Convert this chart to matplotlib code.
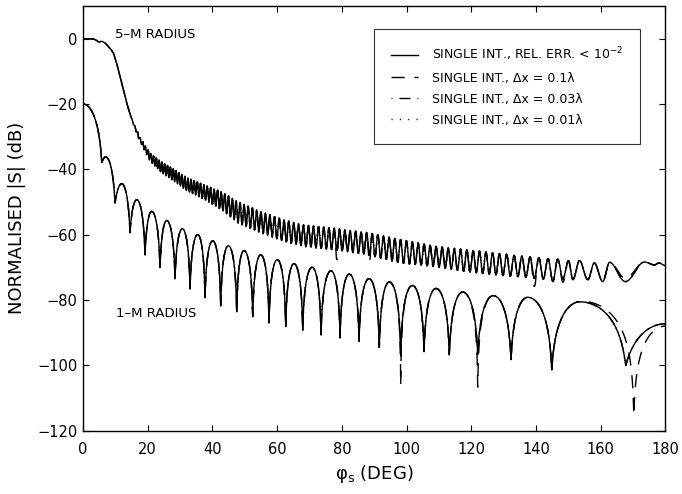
import numpy as np
import matplotlib
matplotlib.use("Agg")
import matplotlib.pyplot as plt

plt.rcParams['font.family'] = ['DejaVu Sans']
plt.rcParams['mathtext.fontset'] = 'dejavusans'

# ---------------- 1-m radius cylinder: lobe maxima and nulls (deg, dB) ----------------
r1_peak_deg = [0.0, 7.0, 11.96, 16.6, 21.23, 25.87, 30.69, 35.44, 40.08, 44.9, 49.75,
               54.91, 60.04, 65.2, 70.8, 76.64, 82.29, 88.38, 94.65, 101.76, 109.08,
               117.34, 126.79, 137.42, 153.58, 180.0]
r1_peak_db = [-20.0, -36.2, -44.4, -49.3, -52.9, -55.7, -58.2, -60.0, -61.9, -63.4, -64.9,
              -66.2, -67.7, -68.9, -70.0, -71.1, -72.1, -73.5, -74.5, -75.6, -76.5,
              -77.6, -78.7, -79.2, -80.6, -87.3]
r1_null_deg = [5.8, 9.89, 14.52, 19.16, 23.79, 28.43, 33.07, 37.7, 42.55, 47.5, 52.44,
               57.48, 62.64, 67.9, 73.55, 79.42, 85.29, 91.56, 98.18, 105.38, 113.2,
               121.97, 132.26, 144.84, 167.7]
r1_null_db = [-37.9, -50.3, -59.4, -66.2, -70.1, -73.5, -76.6, -79.3, -81.8, -83.6, -85.1,
              -87.0, -88.2, -89.3, -90.7, -91.6, -92.7, -94.6, -97.1, -95.8, -96.8,
              -96.8, -98.3, -101.4, -100.1]

# coarse sampling (dx = 0.1 lambda): deeper nulls and a shifted last null
r1_coarse_peak_deg = r1_peak_deg[:-2] + [154.0, 180.0]
r1_coarse_peak_db = r1_peak_db[:-2] + [-80.4, -88.0]
r1_coarse_null_deg = r1_null_deg[:-1] + [170.2]
r1_coarse_null_db = (r1_null_db[:18] + [-106.2] + r1_null_db[19:21] + [-106.7]
                     + r1_null_db[22:24] + [-115.4])

# ---------------- 5-m radius cylinder ----------------
# main lobe (deg, dB)
r5_lobe_deg = [0.0, 2.0, 3.2, 4.0, 4.7, 5.8, 6.8, 8.3, 9.4, 10.4, 11.4, 12.5, 13.5, 14.5]
r5_lobe_db = [0.0, 0.0, -0.1, -0.4, -1.0, -0.8, -1.3, -2.9, -4.4, -7.5, -11.5, -15.6, -19.7, -23.0]

# ripple envelope (upper / lower, dB) and ripple period (deg)
r5_env_deg = [15, 17.6, 20.7, 24, 28, 32, 38, 43, 48, 55, 62, 68, 77, 88, 98, 108, 118, 127, 135, 143.7]
r5_env_hi = [-24.4, -30.2, -35.0, -37.6, -40.0, -42.5, -45.0, -47.0, -50.0, -53.0, -55.5,
             -57.0, -58.0, -59.4, -61.5, -63.4, -64.6, -65.6, -66.5, -67.3]
r5_env_lo = [-24.8, -31.6, -37.4, -40.8, -43.6, -46.5, -49.5, -52.5, -56.5, -59.5, -62.0,
             -63.6, -64.6, -66.2, -68.7, -69.7, -71.3, -72.3, -73.0, -73.8]
r5_period_deg = [15, 30, 45, 60, 80, 100, 115, 125, 135, 143.7]
r5_period = [0.8, 0.9, 1.15, 1.45, 1.65, 1.8, 1.9, 2.0, 2.4, 2.9]

# broad ripples near back-scatter (deg, dB)
r5_tail_deg = [143.7, 145.2, 146.7, 148.3, 150.0, 151.4, 153.4, 156.0, 158.0, 160.6,
               162.7, 167.6, 173.5, 176.6, 177.9, 180.0]
r5_tail_db = [-67.3, -74.4, -67.5, -73.6, -68.0, -73.8, -68.0, -73.8, -68.7, -74.4,
              -68.5, -74.4, -68.4, -69.3, -68.7, -69.5]

# coarse sampling (dx = 0.1 lambda): isolated deeper dips (deg, dB)
r5_coarse_dip_deg = [78.3, 88.6, 139.5, 148.3, 167.6]
r5_coarse_dip_db = [-67.7, -68.6, -75.9, -74.6, -73.4]


def lobe_curve(x, peak_deg, peak_db, null_deg, null_db):
    """Lobes between alternating maxima and nulls, shaped in linear amplitude."""
    deg, db, is_null = [], [], []
    for i in range(len(peak_deg)):
        deg.append(peak_deg[i]); db.append(peak_db[i]); is_null.append(False)
        if i < len(null_deg):
            deg.append(null_deg[i]); db.append(null_db[i]); is_null.append(True)
    y = np.full_like(x, np.nan)
    for k in range(len(deg) - 1):
        a, b = deg[k], deg[k + 1]
        m = (x >= a) & (x <= b)
        t = (x[m] - a) / (b - a)
        if is_null[k]:
            s = t
            a_lo, a_hi = 10 ** (db[k] / 20), 10 ** (db[k + 1] / 20)
        else:
            s = 1 - t
            a_lo, a_hi = 10 ** (db[k + 1] / 20), 10 ** (db[k] / 20)
        amp = a_lo + (a_hi - a_lo) * np.sin(np.pi / 2 * s)
        y[m] = 20 * np.log10(amp)
    return y


def r5_extrema():
    """Ripple maxima/minima, stepping back from the first broad ripple."""
    degs, dbs, lows = [], [], []
    a, hi = r5_tail_deg[0], True
    while a > 15.2:
        degs.append(a)
        dbs.append(np.interp(a, r5_env_deg, r5_env_hi if hi else r5_env_lo))
        lows.append(not hi)
        a -= 0.5 * np.interp(a, r5_period_deg, r5_period)
        hi = not hi
    degs, dbs, lows = degs[::-1], dbs[::-1], lows[::-1]
    for k in range(1, len(r5_tail_deg)):
        degs.append(r5_tail_deg[k]); dbs.append(r5_tail_db[k])
        lows.append(k % 2 == 1)
    return np.array(degs), np.array(dbs), np.array(lows)


def r5_curve(x, dips_deg=None, dips_db=None):
    ed, eb, lows = r5_extrema()
    eb = eb.copy()
    if dips_deg is not None:
        low_idx = np.where(lows)[0]
        for d, v in zip(dips_deg, dips_db):
            j = low_idx[np.argmin(np.abs(ed[low_idx] - d))]
            eb[j] = v
    y = np.full_like(x, np.nan)
    m0 = x <= ed[0]
    y[m0] = np.interp(x[m0], r5_lobe_deg + [ed[0]], r5_lobe_db + [eb[0]])
    for k in range(len(ed) - 1):
        a, b = ed[k], ed[k + 1]
        m = (x >= a) & (x <= b)
        t = (x[m] - a) / (b - a)
        y[m] = eb[k] + (eb[k + 1] - eb[k]) * (1 - np.cos(np.pi * t)) / 2
    return y


x = np.linspace(0, 180, 36001)
r1_fine = lobe_curve(x, r1_peak_deg, r1_peak_db, r1_null_deg, r1_null_db)
r1_coarse = lobe_curve(x, r1_coarse_peak_deg, r1_coarse_peak_db,
                       r1_coarse_null_deg, r1_coarse_null_db)
r5_fine = r5_curve(x)
r5_coarse = r5_curve(x, r5_coarse_dip_deg, r5_coarse_dip_db)

fig = plt.figure(figsize=(6.82, 4.94), dpi=100)
ax = fig.add_axes([0.1217, 0.1285, 0.8541, 0.8594])

lw = 1.0
styles = {
    'solid': '-',
    'dash': (0, (9.5, 7)),
    'dashdot': (0, (0.7, 5, 8, 5)),
    'dot': (0, (0.8, 5.2)),
}
labels = ['SINGLE INT., REL. ERR. < 10$^{-2}$',
          'SINGLE INT., \u0394x = 0.1\u03bb',
          'SINGLE INT., \u0394x = 0.03\u03bb',
          'SINGLE INT., \u0394x = 0.01\u03bb']

h1, = ax.plot(x, r5_fine, color='k', lw=lw, ls=styles['solid'], label=labels[0])
ax.plot(x, r1_fine, color='k', lw=lw, ls=styles['solid'])
h2, = ax.plot(x, r5_coarse, color='k', lw=lw, ls=styles['dash'], label=labels[1])
ax.plot(x, r1_coarse, color='k', lw=lw, ls=styles['dash'])
h3, = ax.plot(x, r5_fine, color='k', lw=lw, ls=styles['dashdot'], label=labels[2])
ax.plot(x, r1_fine, color='k', lw=lw, ls=styles['dashdot'])
h4, = ax.plot(x, r5_fine, color='k', lw=lw, ls=styles['dot'], label=labels[3])
ax.plot(x, r1_fine, color='k', lw=lw, ls=styles['dot'])

ax.set_xlim(0, 180)
ax.set_ylim(-120, 10)
ax.set_xticks(np.arange(0, 181, 20))
ax.set_yticks(np.arange(-120, 1, 20))
ax.tick_params(direction='in', top=True, right=True, length=4, width=0.8,
               labelsize=10.5)
ax.tick_params(axis='x', pad=8.5)
ax.tick_params(axis='y', pad=4)
for sp in ax.spines.values():
    sp.set_linewidth(1.0)

ax.set_xlabel('\u03c6$_{\\mathrm{s}}$ (DEG)', fontsize=13, labelpad=4)
ax.set_ylabel('NORMALISED |S| (dB)', fontsize=13)
ax.yaxis.set_label_coords(-0.097, 0.5)

ax.text(9.9, 0.3, '5\u2013M RADIUS', fontsize=9.5, va='baseline')
ax.text(10.2, -85.2, '1\u2013M RADIUS', fontsize=9.5, va='baseline')

leg = ax.legend(handles=[h1, h2, h3, h4], loc='upper right',
                bbox_to_anchor=(0.956, 0.946), fontsize=9, frameon=True,
                fancybox=False, edgecolor='k', handlelength=2.2, handletextpad=1.1,
                labelspacing=0.65, borderpad=1.35, borderaxespad=0)
leg.get_frame().set_linewidth(0.8)

fig.savefig('out.png', dpi=100)
